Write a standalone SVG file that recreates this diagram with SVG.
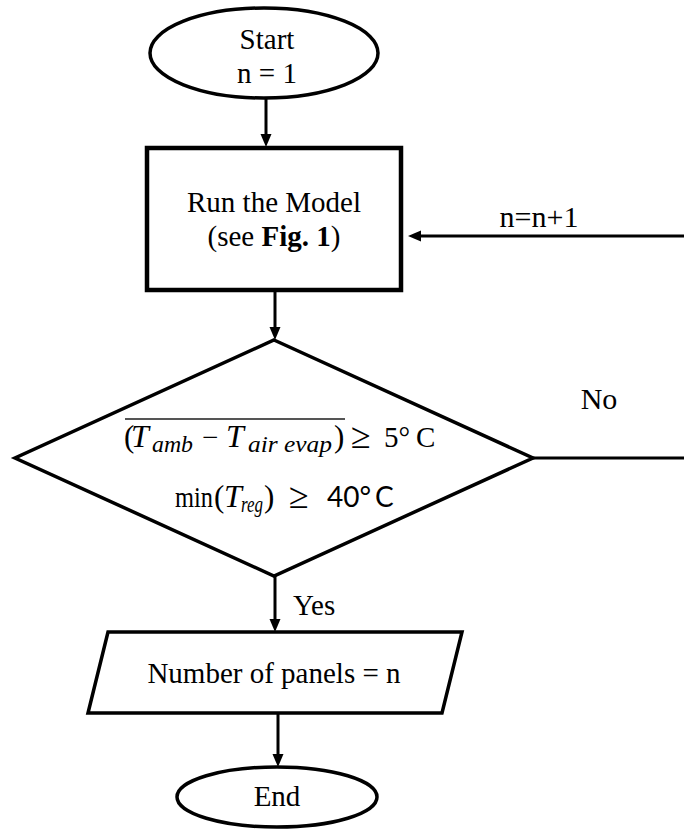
<svg xmlns="http://www.w3.org/2000/svg" width="684" height="830" viewBox="0 0 684 830">
<style>
.shape{fill:#fff;stroke:#000;stroke-width:3.5}
.box{fill:#fff;stroke:#000;stroke-width:4.5}
.t{font-family:"Liberation Serif","Times New Roman",serif;font-size:29px;fill:#000}
.m{text-anchor:middle}
.it{font-style:italic;font-size:32px}
.sub{font-style:italic;font-size:24px}
.ge{font-size:36px}
.sans{font-family:"Lato","Liberation Sans",sans-serif;font-size:28px}
.c{fill:none;stroke:#000;stroke-width:3}
</style>
<defs>
<marker id="ah" markerUnits="userSpaceOnUse" markerWidth="14" markerHeight="12" refX="7" refY="5.5" orient="auto">
<path d="M0,0 L13,5.5 L0,11 z" fill="#000"/>
</marker>
</defs>
<g id="connectors">
<line class="c" x1="266" y1="98" x2="266" y2="141" marker-end="url(#ah)"/>
<line class="c" x1="275" y1="290" x2="275" y2="334" marker-end="url(#ah)"/>
<line class="c" x1="275" y1="576" x2="275" y2="626" marker-end="url(#ah)"/>
<line class="c" x1="278" y1="713" x2="278" y2="761" marker-end="url(#ah)"/>
<path class="c" d="M533,458 H687 V236 H414" marker-end="url(#ah)"/>
<text class="t" x="539" y="227" text-anchor="middle" style="font-size:30px">n=n+1</text>
<text class="t" x="599" y="409" text-anchor="middle" style="font-size:30px">No</text>
<text class="t" x="293" y="615">Yes</text>
</g>
<g id="start">
<ellipse class="shape" cx="264" cy="53" rx="114" ry="45"/>
<text class="t m" x="267" y="49">Start</text>
<text class="t m" x="267" y="83">n = 1</text>
</g>
<g id="run-model">
<rect class="box" x="147" y="148" width="254" height="142"/>
<text class="t m" x="274" y="212">Run the Model</text>
<text class="t m" x="274" y="246">(see <tspan font-weight="bold">Fig. 1</tspan>)</text>
</g>
<g id="decision">
<polygon class="shape" points="274,340 533,458 274,576 15,458"/>
<line x1="125" y1="419" x2="345" y2="419" stroke="#555" stroke-width="2"/>
<text class="t" x="124" y="447" style="font-size:31px">(</text>
<text class="t it" x="131" y="447">T</text>
<text class="t sub" x="152" y="452" textLength="41" lengthAdjust="spacingAndGlyphs">amb</text>
<text class="t" x="202" y="447">−</text>
<text class="t it" x="226" y="447">T</text>
<text class="t sub" x="248" y="452" textLength="84" lengthAdjust="spacingAndGlyphs">air evap</text>
<text class="t" x="334" y="447" style="font-size:31px">)</text>
<text class="t ge" x="351" y="448">≥</text>
<text class="t" x="384" y="447">5°</text>
<text class="t" x="416" y="447">C</text>
<text class="t" x="175" y="507" textLength="38" lengthAdjust="spacingAndGlyphs">min</text>
<text class="t" x="214" y="507" style="font-size:31px">(</text>
<text class="t it" x="224" y="507">T</text>
<text class="t sub" x="241" y="512" textLength="22" lengthAdjust="spacingAndGlyphs">reg</text>
<text class="t" x="264" y="507" style="font-size:31px">)</text>
<text class="t ge" x="289" y="508">≥</text>
<text class="sans" x="327" y="507">40°</text>
<text class="sans" x="375" y="507">C</text>
</g>
<g id="output">
<polygon class="shape" points="108,632 462,632 442,713 88,713"/>
<text class="t m" x="274" y="683">Number of panels = n</text>
</g>
<g id="end">
<ellipse class="shape" cx="277" cy="797" rx="100" ry="30"/>
<text class="t m" x="277" y="806">End</text>
</g>
</svg>
